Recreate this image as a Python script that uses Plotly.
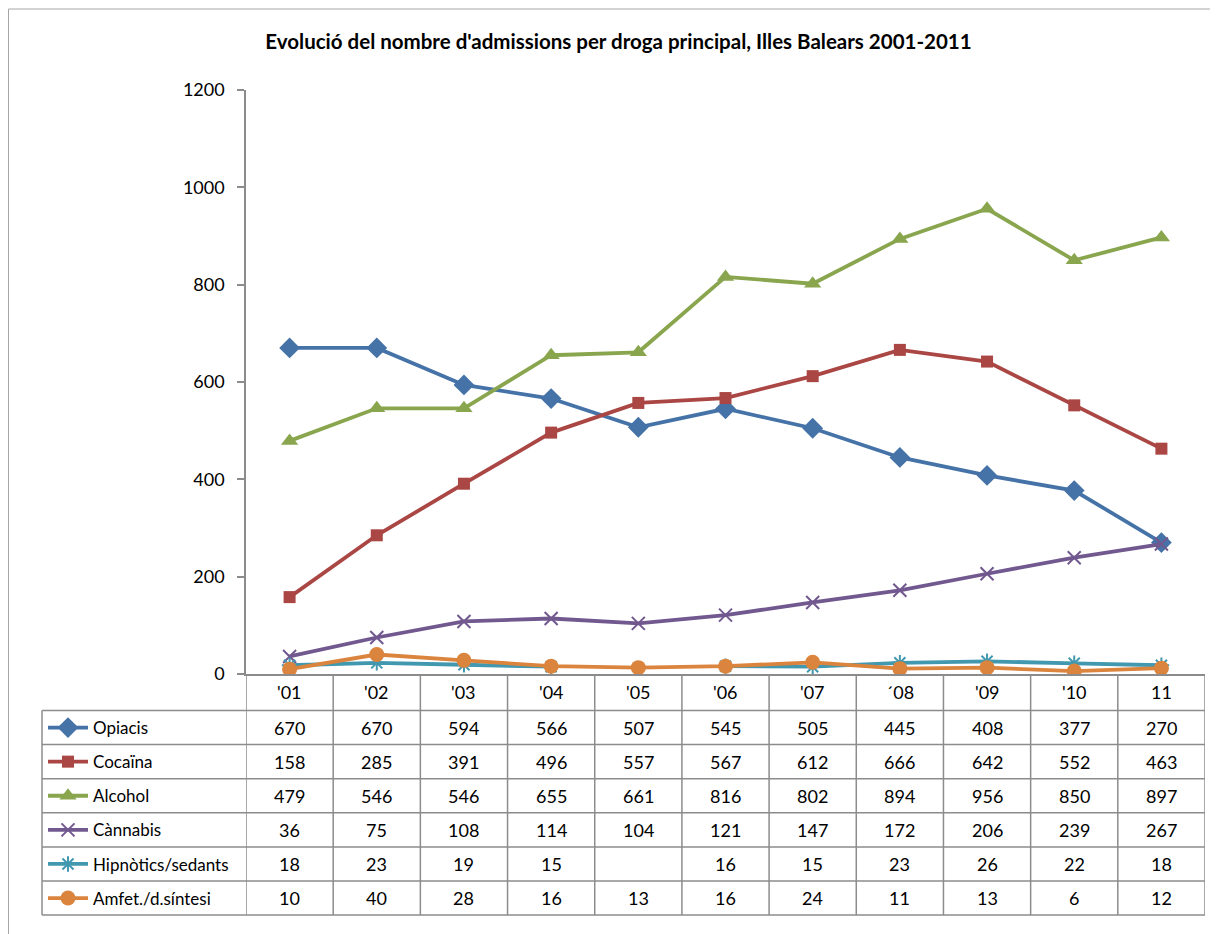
import plotly.graph_objects as go

# ---- data ----
categories = ["'01", "'02", "'03", "'04", "'05", "'06", "'07", "´08", "'09", "'10", "11"]
series_names = ["Opiacis", "Cocaïna", "Alcohol", "Cànnabis", "Hipnòtics/sedants", "Amfet./d.síntesi"]
opiacis = [670, 670, 594, 566, 507, 545, 505, 445, 408, 377, 270]
cocaina = [158, 285, 391, 496, 557, 567, 612, 666, 642, 552, 463]
alcohol = [479, 546, 546, 655, 661, 816, 802, 894, 956, 850, 897]
cannabis = [36, 75, 108, 114, 104, 121, 147, 172, 206, 239, 267]
hipnotics = [18, 23, 19, 15, None, 16, 15, 23, 26, 22, 18]
amfet = [10, 40, 28, 16, 13, 16, 24, 11, 13, 6, 12]
y_ticks = [0, 200, 400, 600, 800, 1000, 1200]
title_text = "Evolució del nombre d'admissions per droga principal, Illes Balears 2001-2011"

all_values = [opiacis, cocaina, alcohol, cannabis, hipnotics, amfet]

# ---- styles ----
colors = ["#4572A7", "#AA4643", "#89A54E", "#71588F", "#4198AF", "#DB843D"]
symbols = ["diamond", "square", "triangle-up", "x-thin-open", "asterisk-open", "circle"]
msizes = [16, 12, 15, 13, 13, 15]
FONT = "Lato"
GRID = "#8C8C8C"
NUM_FS = 18
LEG_FS = 17

OFF = 8  # page body margin offset of the screenshot
W, H = 1218 - OFF, 934 - OFF
# screen-pixel geometry of the reference
S_LEFT, S_RIGHT, S_TOP, S_AXIS = 246, 1205, 90, 674
L, R, T, B = S_LEFT - OFF, W - (S_RIGHT - OFF), S_TOP - OFF, H - (S_AXIS - OFF)
PH = H - T - B
PW = W - L - R


def py(spix):
    return (S_AXIS - spix) / PH


def px(spix):
    return (spix - S_LEFT) / PW


fig = go.Figure()
for i, (name, vals) in enumerate(zip(series_names, all_values)):
    marker = dict(symbol=symbols[i], size=msizes[i], color=colors[i])
    if symbols[i].endswith("-open"):
        marker["line"] = dict(color=colors[i], width=2)
    fig.add_trace(go.Scatter(
        x=categories, y=vals, name=name, mode="lines+markers",
        line=dict(color=colors[i], width=3.8),
        marker=marker, legendgroup=name, connectgaps=False,
    ))

# table geometry (screen pixels)
header_top = S_AXIS
header_bot = 710.5
row_h = 34.1
rows_bot = header_bot + row_h * len(series_names)
label_left = 42

shapes = []
line_style = dict(color=GRID, width=1.5)
for r in range(len(series_names) + 1):
    yy = py(header_bot + r * row_h)
    shapes.append(dict(type="line", xref="paper", yref="paper",
                       x0=px(label_left), x1=1, y0=yy, y1=yy, line=line_style))
shapes.append(dict(type="line", xref="paper", yref="paper",
                   x0=px(label_left), x1=px(label_left),
                   y0=py(header_bot), y1=py(rows_bot), line=line_style))
for k in range(len(categories) + 1):
    xx = k - 0.5
    shapes.append(dict(type="line", xref="x", yref="paper",
                       x0=xx, x1=xx, y0=py(header_top), y1=py(rows_bot), line=line_style))
# outer chart border
shapes.append(dict(type="rect", xref="paper", yref="paper",
                   x0=px(OFF + 0.5), x1=px(1240), y0=py(9), y1=py(960),
                   line=dict(color="#A6A6A6", width=1), layer="below"))

annotations = []
for k, c in enumerate(categories):
    annotations.append(dict(x=k, y=py((header_top + header_bot) / 2), xref="x", yref="paper",
                            text=c, showarrow=False, xanchor="center", yanchor="middle",
                            font=dict(family=FONT, size=NUM_FS, color="black")))
for r, vals in enumerate(all_values):
    yc = py(header_bot + (r + 0.5) * row_h)
    for k, v in enumerate(vals):
        if v is None:
            continue
        annotations.append(dict(x=k, y=yc, xref="x", yref="paper",
                                text=str(v), showarrow=False, xanchor="center", yanchor="middle",
                                font=dict(family=FONT, size=NUM_FS, color="black")))

item_h = LEG_FS * 1.3 + 3

fig.update_layout(
    width=W, height=H,
    margin=dict(l=L, r=R, t=T, b=B),
    paper_bgcolor="white", plot_bgcolor="white",
    title=dict(text="<b>" + title_text + "</b>", x=(618.5 - OFF) / W, xanchor="center",
               y=1 - (42 - OFF) / H, yanchor="middle",
               font=dict(family=FONT, size=20.5, color="black")),
    xaxis=dict(type="category", categoryorder="array", categoryarray=categories,
               range=[-0.5, len(categories) - 0.5], showticklabels=False, ticks="",
               showgrid=False, zeroline=False, showline=True, linecolor=GRID, linewidth=1.5),
    yaxis=dict(range=[0, 1200], tickvals=y_ticks, showgrid=False, zeroline=False,
               showline=True, linecolor=GRID, linewidth=1.5, ticks="outside", ticklen=7,
               tickcolor=GRID, tickwidth=1.5, ticklabelstandoff=9,
               tickfont=dict(family=FONT, size=NUM_FS, color="black")),
    showlegend=True,
    legend=dict(x=px(43), y=py(header_bot + row_h / 2 - item_h / 2 - 5), xanchor="left", yanchor="top",
                traceorder="grouped", tracegroupgap=row_h - item_h, itemwidth=40,
                bgcolor="rgba(0,0,0,0)", borderwidth=0,
                font=dict(family=FONT, size=LEG_FS, color="black")),
    shapes=shapes, annotations=annotations,
)

fig.write_html("out.html")
